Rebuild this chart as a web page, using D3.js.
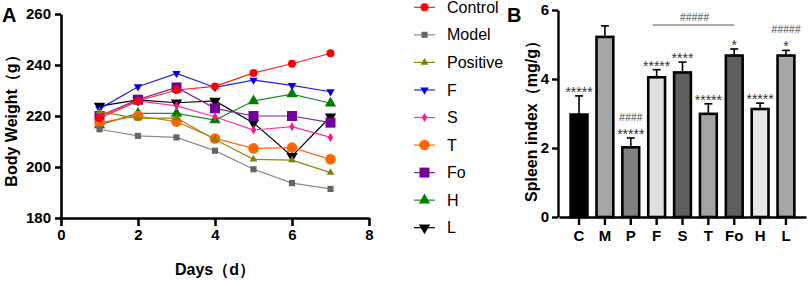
<!DOCTYPE html>
<html>
<head>
<meta charset="utf-8">
<script src="https://cdn.jsdelivr.net/npm/d3@7"></script>
<style>
body { margin: 0; background: #fff; }
text { font-family: Arial, "Liberation Sans", sans-serif; }
</style>
</head>
<body>
<div id="chart"></div>
<script>
// panel A: body weight over days
const days = [1, 2, 3, 4, 5, 6, 7];
const groups = ["Control", "Model", "Positive", "F", "S", "T", "Fo", "H", "L"];
const weightControl  = [219.1, 225.9, 230.2, 231.6, 236.9, 240.5, 244.6];
const weightModel    = [214.8, 212.2, 211.6, 206.4, 199.1, 193.7, 191.4];
const weightPositive = [221.7, 219.1, 219.2, 210.8, 203.0, 202.7, 197.8];
const weightF        = [222.8, 231.5, 236.7, 231.2, 234.1, 232.0, 229.5];
const weightS        = [219.8, 225.9, 224.0, 219.7, 214.5, 215.8, 211.6];
const weightT        = [217.4, 220.0, 217.8, 211.2, 207.3, 207.6, 203.0];
const weightFo       = [220.0, 226.4, 231.2, 223.0, 220.0, 220.0, 217.4];
const weightH        = [216.5, 221.0, 221.0, 218.4, 225.9, 228.6, 225.0];
const weightL        = [223.9, 226.3, 225.2, 225.9, 217.3, 204.2, 219.7];
const weightTicksY = [180, 200, 220, 240, 260];
const dayTicks = [0, 2, 4, 6, 8];

// panel B: spleen index
const spleenCats = ["C", "M", "P", "F", "S", "T", "Fo", "H", "L"];
const spleenMean = [2.97, 5.22, 2.02, 4.05, 4.19, 2.99, 4.68, 3.13, 4.68];
const spleenErr  = [0.54, 0.32, 0.27, 0.22, 0.30, 0.29, 0.19, 0.17, 0.15];
const spleenStars = ["*****", "", "*****", "*****", "****", "*****", "*", "*****", "*"];
const spleenHash  = ["", "", "####", "", "", "", "", "", "#####"];
const spleenTicks = [0, 2, 4, 6];

const seriesData = [weightControl, weightModel, weightPositive, weightF, weightS,
                    weightT, weightFo, weightH, weightL];
const seriesStyle = [
    {color: "#ff0000", line: "#ff2020", sym: d3.symbolCircle, size: 50, rot: 0},
    {color: "#666666", line: "#8a8a8a", sym: d3.symbolSquare, size: 38, rot: 0},
    {color: "#808000", line: "#8a8a10", sym: d3.symbolTriangle, size: 26, rot: 0},
    {color: "#0000ee", line: "#2020e0", sym: d3.symbolTriangle, size: 30, rot: 180},
    {color: "#ff1493", line: "#ff3399", sym: d3.symbolDiamond, size: 24, rot: 0},
    {color: "#ff6600", line: "#ff6a10", sym: d3.symbolCircle, size: 88, rot: 0},
    {color: "#730099", line: "#8020a0", sym: d3.symbolSquare, size: 100, rot: 0},
    {color: "#008000", line: "#208a20", sym: d3.symbolTriangle, size: 56, rot: 0},
    {color: "#000000", line: "#000000", sym: d3.symbolTriangle, size: 56, rot: 180}
];
const barFill = ["#000000", "#a6a6a6", "#808080", "#e0e0e0", "#5e5e5e",
                 "#a3a3a3", "#5e5e5e", "#e6e6e6", "#a6a6a6"];

var svg = d3.select("#chart").append("svg")
    .attr("width", 809).attr("height", 281);

// ---------- panel A ----------
var x = d3.scaleLinear().domain([0, 8]).range([61, 369]);
var y = d3.scaleLinear().domain([180, 260]).range([218, 14]);

var gA = svg.append("g");

gA.append("g")
    .attr("transform", "translate(0,218)")
    .call(d3.axisBottom(x).tickValues(dayTicks).tickSize(8).tickPadding(3).tickSizeOuter(0))
    .call(g => g.select(".domain").attr("stroke-width", 2.6))
    .call(g => g.selectAll(".tick line").attr("stroke-width", 2.6))
    .call(g => g.selectAll("text").style("font-size", "15px").style("font-weight", "bold").attr("fill", "#000"));

gA.append("g")
    .attr("transform", "translate(61,0)")
    .call(d3.axisLeft(y).tickValues(weightTicksY).tickSize(6).tickPadding(4).tickSizeOuter(0))
    .call(g => g.select(".domain").attr("stroke-width", 2.6))
    .call(g => g.selectAll(".tick line").attr("stroke-width", 2.6))
    .call(g => g.selectAll("text").style("font-size", "15px").style("font-weight", "bold").attr("fill", "#000"));

var line = d3.line().x((d, i) => x(days[i])).y(d => y(d));

// draw the last group first so Control ends on top
for (var k = groups.length - 1; k >= 0; k--) {
    var st = seriesStyle[k];
    gA.append("path")
        .datum(seriesData[k])
        .attr("d", line)
        .attr("fill", "none")
        .attr("stroke", st.line)
        .attr("stroke-width", 1.2);
    gA.selectAll(".pt" + k)
        .data(seriesData[k])
        .enter().append("path")
        .attr("transform", (d, i) => "translate(" + x(days[i]) + "," + y(d) + ") rotate(" + st.rot + ")")
        .attr("d", d3.symbol().type(st.sym).size(st.size))
        .attr("fill", st.color);
}

gA.append("text")
    .attr("x", 215).attr("y", 275)
    .attr("text-anchor", "middle")
    .style("font-size", "16px").style("font-weight", "bold")
    .text("Days（d）");

gA.append("text")
    .attr("transform", "translate(17,117) rotate(-90)")
    .attr("text-anchor", "middle")
    .style("font-size", "16px").style("font-weight", "bold")
    .text("Body Weight（g）");

gA.append("text")
    .attr("x", 2).attr("y", 22)
    .style("font-size", "20px").style("font-weight", "bold")
    .text("A");

// legend
var legY = d3.scalePoint().domain(groups).range([7.3, 227.7]);
var leg = svg.append("g");
groups.forEach(function(name, k) {
    var st = seriesStyle[k];
    var ly = legY(name);
    leg.append("line")
        .attr("x1", 414).attr("x2", 435).attr("y1", ly).attr("y2", ly)
        .attr("stroke", st.line).attr("stroke-width", 1.2);
    leg.append("path")
        .attr("transform", "translate(424.5," + ly + ") rotate(" + st.rot + ")")
        .attr("d", d3.symbol().type(st.sym).size(st.size))
        .attr("fill", st.color);
    leg.append("text")
        .attr("x", 447).attr("y", ly)
        .attr("dy", "0.35em")
        .style("font-size", "16px")
        .text(name);
});

// ---------- panel B ----------
var xb = d3.scaleBand().domain(spleenCats).range([559, 806])
    .paddingInner(0.35).paddingOuter(0.45);
var yb = d3.scaleLinear().domain([0, 6]).range([217, 10]);

var gB = svg.append("g");

gB.append("g")
    .attr("transform", "translate(0,217)")
    .call(d3.axisBottom(xb).tickSize(8).tickPadding(5).tickSizeOuter(0))
    .call(g => g.select(".domain").attr("stroke-width", 2.4))
    .call(g => g.selectAll(".tick line").attr("stroke-width", 2.4))
    .call(g => g.selectAll("text").style("font-size", "15px").style("font-weight", "bold").attr("fill", "#000"));

gB.append("g")
    .attr("transform", "translate(558,0)")
    .call(d3.axisLeft(yb).tickValues(spleenTicks).tickFormat(d3.format("d"))
        .tickSize(6).tickPadding(3).tickSizeOuter(0))
    .call(g => g.select(".domain").attr("stroke-width", 2.4))
    .call(g => g.selectAll(".tick line").attr("stroke-width", 2.4))
    .call(g => g.selectAll("text").style("font-size", "15px").style("font-weight", "bold").attr("fill", "#000"));

var bars = spleenCats.map((c, i) => ({cat: c, v: spleenMean[i], e: spleenErr[i],
    stars: spleenStars[i], hash: spleenHash[i], fill: barFill[i]}));

// error bars (upper only)
gB.selectAll(".err").data(bars).enter().append("line")
    .attr("x1", d => xb(d.cat) + xb.bandwidth() / 2)
    .attr("x2", d => xb(d.cat) + xb.bandwidth() / 2)
    .attr("y1", d => yb(d.v)).attr("y2", d => yb(d.v + d.e))
    .attr("stroke", "#000").attr("stroke-width", 1.6);
gB.selectAll(".cap").data(bars).enter().append("line")
    .attr("x1", d => xb(d.cat) + xb.bandwidth() / 2 - 4)
    .attr("x2", d => xb(d.cat) + xb.bandwidth() / 2 + 4)
    .attr("y1", d => yb(d.v + d.e)).attr("y2", d => yb(d.v + d.e))
    .attr("stroke", "#000").attr("stroke-width", 1.6);

gB.selectAll(".bar").data(bars).enter().append("rect")
    .attr("x", d => xb(d.cat))
    .attr("y", d => yb(d.v))
    .attr("width", xb.bandwidth())
    .attr("height", d => yb(0) - yb(d.v))
    .attr("fill", d => d.fill)
    .attr("stroke", "#000").attr("stroke-width", 2.6);

gB.selectAll(".stars").data(bars.filter(d => d.stars)).enter().append("text")
    .attr("x", d => xb(d.cat) + xb.bandwidth() / 2)
    .attr("y", d => yb(d.v + d.e) + 1)
    .attr("text-anchor", "middle")
    .style("font-size", "14px").attr("fill", "#333")
    .text(d => d.stars);

gB.selectAll(".hash").data(bars.filter(d => d.hash)).enter().append("text")
    .attr("x", d => xb(d.cat) + xb.bandwidth() / 2)
    .attr("y", d => yb(d.v + d.e) - 17)
    .attr("text-anchor", "middle")
    .style("font-size", "10.5px").style("font-style", "italic").attr("fill", "#444")
    .text(d => d.hash);

// bracket F..Fo
var bx1 = xb("F") + xb.bandwidth() / 2 - 4, bx2 = xb("Fo") + xb.bandwidth() / 2;
gB.append("line")
    .attr("x1", bx1).attr("x2", bx2).attr("y1", 25).attr("y2", 25)
    .attr("stroke", "#555").attr("stroke-width", 1);
gB.append("text")
    .attr("x", (bx1 + bx2) / 2 + 1).attr("y", 20.5)
    .attr("text-anchor", "middle")
    .style("font-size", "10.5px").style("font-style", "italic").attr("fill", "#444")
    .text("#####");

gB.append("text")
    .attr("transform", "translate(537,202) rotate(-90)")
    .style("font-size", "16px").style("font-weight", "bold")
    .text("Spleen index（mg/g）");

gB.append("text")
    .attr("x", 507).attr("y", 22)
    .style("font-size", "20px").style("font-weight", "bold")
    .text("B");
</script>
</body>
</html>
